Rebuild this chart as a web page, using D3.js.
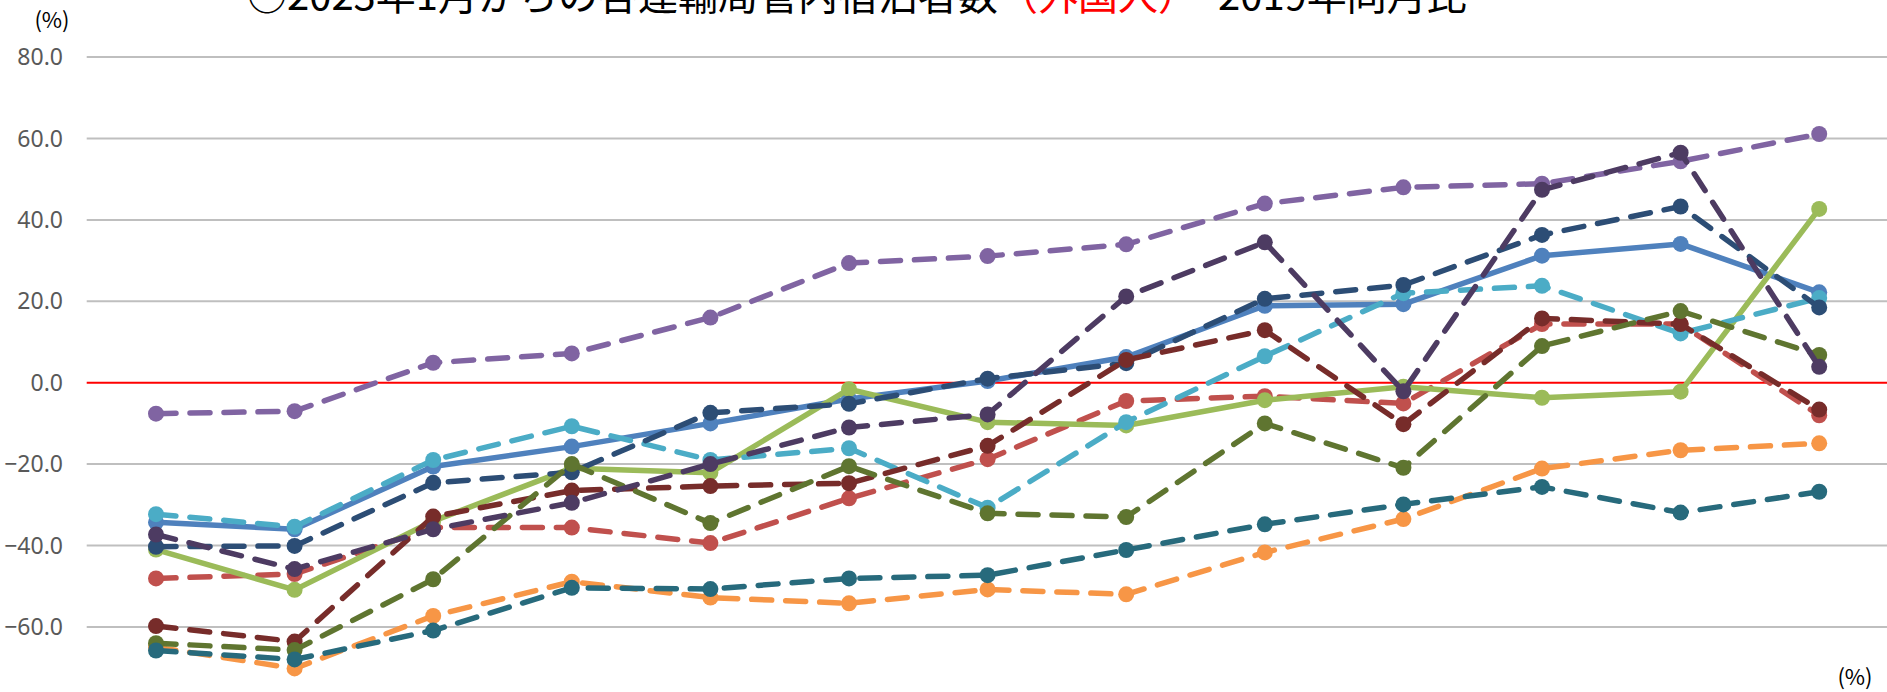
<!DOCTYPE html>
<html lang="ja">
  <head>
    <meta charset="UTF-8" />
    <title>宿泊者数（外国人） 2019年同月比</title>
    <script src="https://d3js.org/d3.v7.min.js"></script>
    <style>
      body { margin: 0; background: #fff; overflow: hidden; }
      .tick-label { font-family: 'Noto Sans', sans-serif; font-size: 23px; fill: #595959; }
      .unit { font-family: 'Noto Sans CJK JP', 'Noto Sans', sans-serif; font-size: 22px; fill: #000; }
      .title { font-family: 'Noto Sans CJK JP', sans-serif; font-size: 40px; fill: #000; }
    </style>
  </head>
  <body>
    <div id="chart"></div>
    <script>
      // 13 months, Jan 2023 - Jan 2024 (axis labels fall below the visible area)
      const months = ['2023年1月', '2月', '3月', '4月', '5月', '6月', '7月', '8月', '9月', '10月', '11月', '12月', '2024年1月'];
      const yTicks = [-60, -40, -20, 0, 20, 40, 60, 80];

      // values (% vs same month of 2019)
      const s1 = [-34.3, -36.0, -20.6, -15.7, -10.0, -4.0, 0.4, 6.3, 18.9, 19.3, 31.2, 34.1, 22.2];
      const s2 = [-48.1, -47.0, -35.6, -35.6, -39.4, -28.4, -18.8, -4.5, -3.3, -5.1, 14.4, 14.4, -8.0];
      const s3 = [-41.0, -50.9, -34.0, -21.0, -22.1, -1.6, -9.7, -10.5, -4.3, -1.0, -3.7, -2.2, 42.7];
      const s4 = [-7.6, -7.0, 4.9, 7.2, 16.0, 29.4, 31.1, 34.0, 44.0, 48.0, 48.9, 54.4, 61.1];
      const s5 = [-32.3, -35.4, -19.0, -10.7, -19.0, -16.1, -30.7, -9.7, 6.5, 22.0, 23.8, 12.1, 20.8];
      const s6 = [-65.0, -70.2, -57.3, -48.9, -52.8, -54.2, -50.8, -52.0, -41.7, -33.5, -21.1, -16.6, -14.9];
      const s7 = [-40.3, -40.1, -24.6, -22.0, -7.4, -5.2, 1.0, 4.8, 20.6, 24.0, 36.3, 43.3, 18.5];
      const s8 = [-59.8, -63.6, -32.9, -26.5, -25.4, -24.7, -15.5, 5.6, 12.9, -10.2, 15.8, 14.4, -6.6];
      const s9 = [-64.0, -65.7, -48.3, -20.0, -34.5, -20.5, -32.1, -33.0, -10.0, -20.9, 9.0, 17.6, 6.8];
      const s10 = [-37.3, -45.8, -36.0, -29.5, -20.0, -11.0, -7.8, 21.2, 34.5, -2.1, 47.4, 56.5, 3.9];
      const s11 = [-65.8, -68.0, -60.9, -50.4, -50.7, -48.1, -47.3, -41.1, -34.8, -29.9, -25.6, -31.9, -26.8];

      const seriesValues = [s1, s2, s3, s4, s5, s6, s7, s8, s9, s10, s11];
      const colors = ['#4F81BD', '#C0504D', '#9BBB59', '#8064A2', '#4BACC6', '#F79646',
        '#2C4D75', '#772C2A', '#5F7530', '#4D3B62', '#276A7C'];
      const dashed = [false, true, false, true, true, true, true, true, true, true, true];

      const svgWidth = 1887;
      const svgHeight = 692;
      const plotLeft = 86.7;
      const band = 138.6;

      const svg = d3.select('#chart').append('svg')
        .attr('width', svgWidth)
        .attr('height', svgHeight);

      const x = d3.scaleBand()
        .domain(months)
        .range([plotLeft, plotLeft + band * months.length]);

      const y = d3.scaleLinear()
        .domain([-80, 80])
        .range([708.3, 57.1]);

      // gridlines
      svg.append('g')
        .selectAll('line')
        .data(yTicks.filter(d => d !== 0))
        .enter()
        .append('line')
        .attr('x1', plotLeft)
        .attr('x2', svgWidth)
        .attr('y1', d => y(d))
        .attr('y2', d => y(d))
        .attr('stroke', '#BFBFBF')
        .attr('stroke-width', 2);

      // zero line in red
      svg.append('line')
        .attr('x1', plotLeft)
        .attr('x2', svgWidth)
        .attr('y1', y(0))
        .attr('y2', y(0))
        .attr('stroke', '#FF0000')
        .attr('stroke-width', 2);

      // y tick labels
      svg.append('g')
        .selectAll('text')
        .data(yTicks)
        .enter()
        .append('text')
        .attr('class', 'tick-label')
        .attr('x', 63)
        .attr('y', d => y(d))
        .attr('dy', '0.35em')
        .attr('text-anchor', 'end')
        .text(d => d3.format('.1f')(d));

      const cx = (d, i) => x(months[i]) + x.bandwidth() / 2;
      const line = d3.line()
        .x((d, i) => cx(d, i))
        .y(d => y(d));

      seriesValues.forEach(function (vals, k) {
        const g = svg.append('g');
        g.append('path')
          .datum(vals)
          .attr('d', line)
          .attr('fill', 'none')
          .attr('stroke', colors[k])
          .attr('stroke-width', 5.5)
          .attr('stroke-linejoin', 'round')
          .attr('stroke-linecap', 'round')
          .attr('stroke-dasharray', dashed[k] ? '20,14' : null);
        g.selectAll('circle')
          .data(vals)
          .enter()
          .append('circle')
          .attr('cx', cx)
          .attr('cy', d => y(d))
          .attr('r', 8)
          .attr('fill', colors[k]);
      });

      // unit labels
      svg.append('text')
        .attr('class', 'unit')
        .attr('x', 52)
        .attr('y', 28)
        .attr('text-anchor', 'middle')
        .text('(%)');

      svg.append('text')
        .attr('class', 'unit')
        .attr('x', 1855)
        .attr('y', 685)
        .attr('text-anchor', 'middle')
        .text('(%)');

      // title, clipped at the top edge like the original
      const title = svg.append('text')
        .attr('class', 'title')
        .attr('x', 247)
        .attr('y', 10);
      title.append('tspan').text('○2023年1月からの各運輸局管内宿泊者数');
      title.append('tspan').attr('fill', '#FF0000').text('（外国人）');
      title.append('tspan').text('　2019年同月比');
    </script>
  </body>
</html>
